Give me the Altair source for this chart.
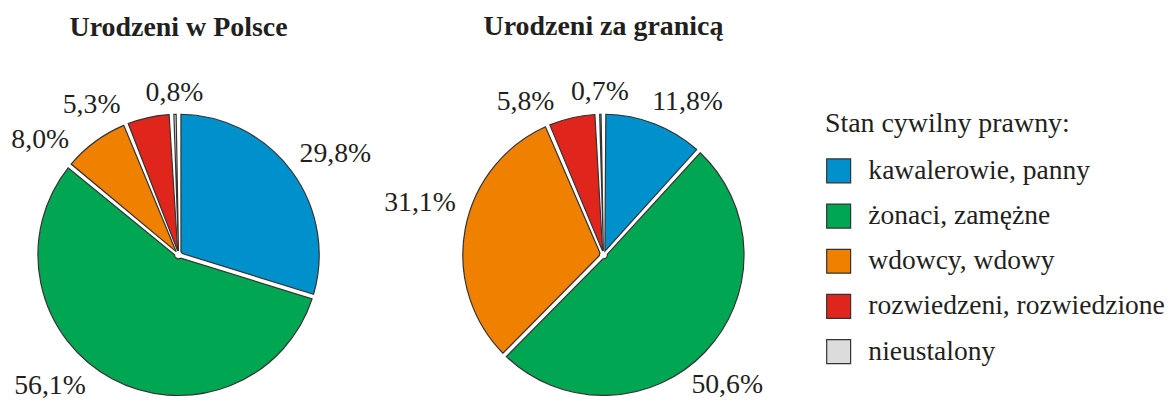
import altair as alt
import pandas as pd

# ---- data ----
categories = [
    "kawalerowie, panny",
    "żonaci, zamężne",
    "wdowcy, wdowy",
    "rozwiedzeni, rozwiedzione",
    "nieustalony",
]
pies = ["Urodzeni w Polsce", "Urodzeni za granicą"]
values_poland = [29.8, 56.1, 8.0, 5.3, 0.8]
values_abroad = [11.8, 50.6, 31.1, 5.8, 0.7]

# label placement (annotation layout): angular shift in % of circle, distance in px
label_shift_poland = [1.0, 4.5, -3.9, -4.9, 0.0]
label_radius_poland = [187, 184, 180, 174, 162]
label_shift_abroad = [2.1, 0.8, 1.4, -3.9, 0.0]
label_radius_abroad = [175, 180, 191, 172, 163]

colors = ["#0091cd", "#00a651", "#f08000", "#e0261c", "#dcdcdc"]
FONT = "Liberation Serif"
TXT = "#231f20"

rows = []
for pie, vals, sh, rr in [
    (pies[0], values_poland, label_shift_poland, label_radius_poland),
    (pies[1], values_abroad, label_shift_abroad, label_radius_abroad),
]:
    for i, (c, v) in enumerate(zip(categories, vals)):
        rows.append({
            "pie": pie, "category": c, "value": v, "order": i,
            "label": f"{v:.1f}".replace(".", ",") + "%",
            "shift": sh[i], "lab_r": rr[i],
        })
df = pd.DataFrame(rows)

W, H = 342, 264

color = alt.Color(
    "category:N",
    sort=categories,
    scale=alt.Scale(domain=categories, range=colors),
    legend=alt.Legend(
        title="Stan cywilny prawny:",
        orient="none",
        legendX=819,
        legendY=-13,
        direction="vertical",
        symbolType="square",
        symbolSize=576,
        symbolStrokeColor="#333333",
        symbolStrokeWidth=1.2,
        labelFont=FONT,
        labelFontSize=27.6,
        labelColor=TXT,
        labelOffset=16,
        labelLimit=400,
        titleFont=FONT,
        titleFontSize=28,
        titleFontWeight="normal",
        titleColor=TXT,
        titlePadding=19,
        titleLimit=400,
        rowPadding=15.3,
    ),
)

theta_scale = alt.Scale(domain=[0, 100])


def pie_chart(name):
    base = alt.Chart(df).transform_filter(alt.datum.pie == name)
    arcs = base.mark_arc(
        outerRadius=141,
        innerRadius=4,
        padAngle=0.034,
        stroke="#333333",
        strokeWidth=1.2,
    ).encode(
        theta=alt.Theta("value:Q", stack=True, scale=theta_scale),
        color=color,
        order=alt.Order("order:Q"),
    )
    labels = base.transform_window(
        cum="sum(value)", sort=[alt.SortField("order")]
    ).transform_calculate(
        ang="datum.cum - datum.value / 2 + datum.shift"
    ).mark_text(
        font=FONT, fontSize=27.8, color=TXT, align="center", baseline="middle"
    ).encode(
        theta=alt.Theta("ang:Q", scale=theta_scale),
        radius=alt.Radius("lab_r:Q", scale=None),
        text="label:N",
    )
    return alt.layer(arcs, labels).properties(
        width=W,
        height=H,
        title=alt.TitleParams(
            name, font=FONT, fontSize=28, fontWeight="bold", color=TXT,
            anchor="middle", offset=37,
        ),
    )


chart = alt.hconcat(
    pie_chart(pies[0]), pie_chart(pies[1]), spacing=84, bounds="flush"
).properties(
    padding={"left": 0, "top": 5, "right": 0, "bottom": 0},
    background="white",
).configure_view(stroke=None)

chart.save("out.html", embed_options={"renderer": "svg", "actions": False})
